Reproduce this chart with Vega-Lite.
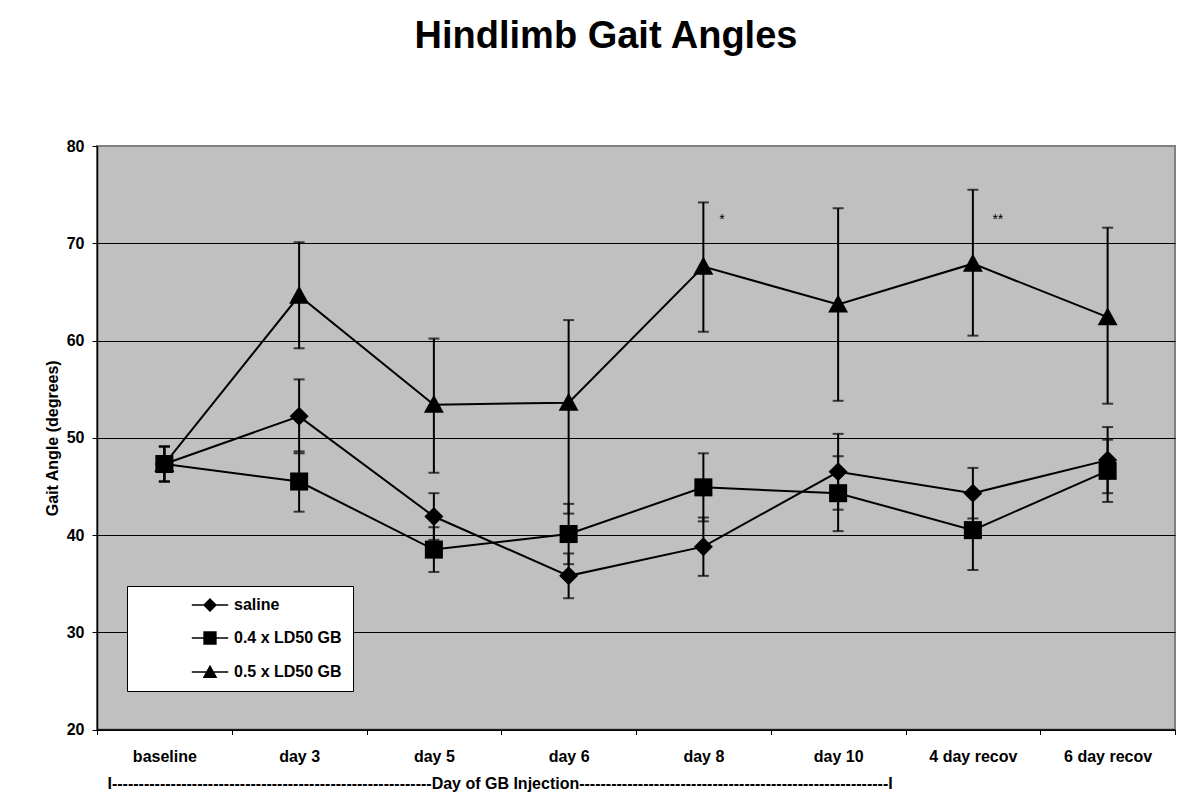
{
  "$schema": "https://vega.github.io/schema/vega-lite/v6.json",
  "width": 1078,
  "height": 583.5,
  "autosize": {"type": "none"},
  "padding": {"left": 97, "top": 146, "right": 17, "bottom": 79.5},
  "background": "white",
  "title": {
    "text": "Hindlimb Gait Angles",
    "font": "Liberation Sans",
    "fontSize": 38,
    "fontWeight": "bold",
    "color": "black",
    "anchor": "middle",
    "frame": "group",
    "baseline": "alphabetic",
    "dx": -30,
    "offset": 52
  },
  "config": {
    "font": "Liberation Sans",
    "view": {"fill": "#C0C0C0", "stroke": "#808080", "strokeWidth": 2}
  },
  "resolve": {"scale": {"shape": "independent"}, "legend": {"shape": "independent"}},
  "datasets": {
    "gait": [
      {"day": "baseline", "series": "saline", "mean": 47.3, "lo": 45.5, "hi": 49.1},
      {"day": "day 3", "series": "saline", "mean": 52.2, "lo": 48.4, "hi": 56.0},
      {"day": "day 5", "series": "saline", "mean": 41.9, "lo": 39.5, "hi": 44.3},
      {"day": "day 6", "series": "saline", "mean": 35.8, "lo": 33.5, "hi": 38.1},
      {"day": "day 8", "series": "saline", "mean": 38.8, "lo": 35.8, "hi": 41.8},
      {"day": "day 10", "series": "saline", "mean": 46.5, "lo": 42.6, "hi": 50.4},
      {"day": "4 day recov", "series": "saline", "mean": 44.3, "lo": 41.7, "hi": 46.9},
      {"day": "6 day recov", "series": "saline", "mean": 47.7, "lo": 44.3, "hi": 51.1},
      {"day": "baseline", "series": "0.5 x LD50 GB", "mean": 47.3, "lo": 45.5, "hi": 49.1},
      {"day": "day 3", "series": "0.5 x LD50 GB", "mean": 64.6, "lo": 59.2, "hi": 70.1},
      {"day": "day 5", "series": "0.5 x LD50 GB", "mean": 53.4, "lo": 46.4, "hi": 60.2},
      {"day": "day 6", "series": "0.5 x LD50 GB", "mean": 53.6, "lo": 42.2, "hi": 62.1},
      {"day": "day 8", "series": "0.5 x LD50 GB", "mean": 67.6, "lo": 60.9, "hi": 74.2},
      {"day": "day 10", "series": "0.5 x LD50 GB", "mean": 63.7, "lo": 53.8, "hi": 73.6},
      {"day": "4 day recov", "series": "0.5 x LD50 GB", "mean": 67.9, "lo": 60.5, "hi": 75.5},
      {"day": "6 day recov", "series": "0.5 x LD50 GB", "mean": 62.4, "lo": 53.5, "hi": 71.6},
      {"day": "baseline", "series": "0.4 x LD50 GB", "mean": 47.3, "lo": 45.5, "hi": 49.1},
      {"day": "day 3", "series": "0.4 x LD50 GB", "mean": 45.5, "lo": 42.4, "hi": 48.6},
      {"day": "day 5", "series": "0.4 x LD50 GB", "mean": 38.5, "lo": 36.2, "hi": 40.8},
      {"day": "day 6", "series": "0.4 x LD50 GB", "mean": 40.1, "lo": 37.0, "hi": 43.2},
      {"day": "day 8", "series": "0.4 x LD50 GB", "mean": 44.9, "lo": 41.4, "hi": 48.4},
      {"day": "day 10", "series": "0.4 x LD50 GB", "mean": 44.3, "lo": 40.4, "hi": 48.1},
      {"day": "4 day recov", "series": "0.4 x LD50 GB", "mean": 40.5, "lo": 36.4, "hi": 44.6},
      {"day": "6 day recov", "series": "0.4 x LD50 GB", "mean": 46.6, "lo": 43.4, "hi": 49.8}
    ],
    "stars": [
      {"day": "day 8", "y": 72.4, "label": "*"},
      {"day": "4 day recov", "y": 72.4, "label": "**"}
    ]
  },
  "encoding": {
    "x": {
      "field": "day",
      "type": "nominal",
      "sort": ["baseline", "day 3", "day 5", "day 6", "day 8", "day 10", "4 day recov", "6 day recov"],
      "scale": {
        "type": "band",
        "domain": ["baseline", "day 3", "day 5", "day 6", "day 8", "day 10", "4 day recov", "6 day recov"],
        "paddingInner": 0,
        "paddingOuter": 0
      },
      "axis": {
        "title": "I------------------------------------------------------------Day of GB Injection----------------------------------------------------------I",
        "titleFont": "Liberation Sans",
        "titleFontSize": 16,
        "titleFontWeight": "bold",
        "titleColor": "black",
        "titleAnchor": "start",
        "titleAlign": "left",
        "titleBaseline": "alphabetic",
        "titleX": 10,
        "titleY": 58.5,
        "labelAngle": 0,
        "labelFont": "Liberation Sans",
        "labelFontSize": 16,
        "labelFontWeight": "bold",
        "labelColor": "black",
        "labelBaseline": "alphabetic",
        "labelPadding": 26.5,
        "tickBand": "extent",
        "tickSize": 5,
        "tickColor": "black",
        "tickWidth": 1,
        "domainColor": "black",
        "domainWidth": 1.5,
        "grid": false
      }
    }
  },
  "layer": [
    {
      "data": {"name": "gait"},
      "mark": {"type": "line", "color": "black", "strokeWidth": 2},
      "encoding": {
        "y": {
          "field": "mean",
          "type": "quantitative",
          "scale": {"domain": [20, 80], "nice": false, "zero": false},
          "axis": {
            "title": "Gait Angle (degrees)",
            "values": [20, 30, 40, 50, 60, 70, 80],
            "titleFont": "Liberation Sans",
            "titleFontSize": 16,
            "titleFontWeight": "bold",
            "titleColor": "black",
            "titleAngle": 270,
            "titleAlign": "center",
            "titleBaseline": "alphabetic",
            "titleX": -40,
            "titleY": 291.75,
            "labelFont": "Liberation Sans",
            "labelFontSize": 16,
            "labelFontWeight": "bold",
            "labelColor": "black",
            "labelPadding": 8,
            "tickSize": 5,
            "tickColor": "black",
            "domainColor": "black",
            "domainWidth": 1.5,
            "grid": true,
            "gridColor": {"condition": {"test": "datum.value == 80", "value": "#808080"}, "value": "black"},
            "gridWidth": 1
          }
        },
        "detail": {"field": "series"}
      }
    },
    {
      "data": {"name": "gait"},
      "mark": {"type": "rule", "color": "black", "strokeWidth": 2},
      "encoding": {
        "y": {
          "field": "lo",
          "type": "quantitative",
          "scale": {"domain": [20, 80], "nice": false, "zero": false},
          "axis": {
            "title": "Gait Angle (degrees)",
            "values": [20, 30, 40, 50, 60, 70, 80],
            "titleFont": "Liberation Sans",
            "titleFontSize": 16,
            "titleFontWeight": "bold",
            "titleColor": "black",
            "titleAngle": 270,
            "titleAlign": "center",
            "titleBaseline": "alphabetic",
            "titleX": -40,
            "titleY": 291.75,
            "labelFont": "Liberation Sans",
            "labelFontSize": 16,
            "labelFontWeight": "bold",
            "labelColor": "black",
            "labelPadding": 8,
            "tickSize": 5,
            "tickColor": "black",
            "domainColor": "black",
            "domainWidth": 1.5,
            "grid": true,
            "gridColor": {"condition": {"test": "datum.value == 80", "value": "#808080"}, "value": "black"},
            "gridWidth": 1
          }
        },
        "y2": {"field": "hi"}
      }
    },
    {
      "data": {"name": "gait"},
      "mark": {"type": "tick", "color": "black", "thickness": 2, "size": 11},
      "encoding": {
        "y": {
          "field": "lo",
          "type": "quantitative",
          "scale": {"domain": [20, 80], "nice": false, "zero": false},
          "axis": {
            "title": "Gait Angle (degrees)",
            "values": [20, 30, 40, 50, 60, 70, 80],
            "titleFont": "Liberation Sans",
            "titleFontSize": 16,
            "titleFontWeight": "bold",
            "titleColor": "black",
            "titleAngle": 270,
            "titleAlign": "center",
            "titleBaseline": "alphabetic",
            "titleX": -40,
            "titleY": 291.75,
            "labelFont": "Liberation Sans",
            "labelFontSize": 16,
            "labelFontWeight": "bold",
            "labelColor": "black",
            "labelPadding": 8,
            "tickSize": 5,
            "tickColor": "black",
            "domainColor": "black",
            "domainWidth": 1.5,
            "grid": true,
            "gridColor": {"condition": {"test": "datum.value == 80", "value": "#808080"}, "value": "black"},
            "gridWidth": 1
          }
        }
      }
    },
    {
      "data": {"name": "gait"},
      "mark": {"type": "tick", "color": "black", "thickness": 2, "size": 11},
      "encoding": {
        "y": {
          "field": "hi",
          "type": "quantitative",
          "scale": {"domain": [20, 80], "nice": false, "zero": false},
          "axis": {
            "title": "Gait Angle (degrees)",
            "values": [20, 30, 40, 50, 60, 70, 80],
            "titleFont": "Liberation Sans",
            "titleFontSize": 16,
            "titleFontWeight": "bold",
            "titleColor": "black",
            "titleAngle": 270,
            "titleAlign": "center",
            "titleBaseline": "alphabetic",
            "titleX": -40,
            "titleY": 291.75,
            "labelFont": "Liberation Sans",
            "labelFontSize": 16,
            "labelFontWeight": "bold",
            "labelColor": "black",
            "labelPadding": 8,
            "tickSize": 5,
            "tickColor": "black",
            "domainColor": "black",
            "domainWidth": 1.5,
            "grid": true,
            "gridColor": {"condition": {"test": "datum.value == 80", "value": "#808080"}, "value": "black"},
            "gridWidth": 1
          }
        }
      }
    },
    {
      "data": {"name": "gait"},
      "mark": {"type": "point", "filled": true, "color": "black", "opacity": 1, "size": 361, "strokeWidth": 0},
      "encoding": {
        "y": {
          "field": "mean",
          "type": "quantitative",
          "scale": {"domain": [20, 80], "nice": false, "zero": false},
          "axis": {
            "title": "Gait Angle (degrees)",
            "values": [20, 30, 40, 50, 60, 70, 80],
            "titleFont": "Liberation Sans",
            "titleFontSize": 16,
            "titleFontWeight": "bold",
            "titleColor": "black",
            "titleAngle": 270,
            "titleAlign": "center",
            "titleBaseline": "alphabetic",
            "titleX": -40,
            "titleY": 291.75,
            "labelFont": "Liberation Sans",
            "labelFontSize": 16,
            "labelFontWeight": "bold",
            "labelColor": "black",
            "labelPadding": 8,
            "tickSize": 5,
            "tickColor": "black",
            "domainColor": "black",
            "domainWidth": 1.5,
            "grid": true,
            "gridColor": {"condition": {"test": "datum.value == 80", "value": "#808080"}, "value": "black"},
            "gridWidth": 1
          }
        },
        "shape": {
          "field": "series",
          "type": "nominal",
          "scale": {
            "domain": ["saline", "0.4 x LD50 GB", "0.5 x LD50 GB"],
            "range": [
              "M0,-1L1,0L0,1L-1,0Z",
              "M-0.95,-0.95H0.95V0.95H-0.95Z",
              "M0,-1.05L1.05,0.85L-1.05,0.85Z"
            ]
          },
          "legend": null
        }
      }
    },
    {
      "data": {"name": "gait"},
      "mark": {"type": "point", "filled": true, "fill": "black", "stroke": "black", "strokeWidth": 1.5, "opacity": 0, "size": 196},
      "encoding": {
        "y": {
          "field": "mean",
          "type": "quantitative",
          "scale": {"domain": [20, 80], "nice": false, "zero": false},
          "axis": {
            "title": "Gait Angle (degrees)",
            "values": [20, 30, 40, 50, 60, 70, 80],
            "titleFont": "Liberation Sans",
            "titleFontSize": 16,
            "titleFontWeight": "bold",
            "titleColor": "black",
            "titleAngle": 270,
            "titleAlign": "center",
            "titleBaseline": "alphabetic",
            "titleX": -40,
            "titleY": 291.75,
            "labelFont": "Liberation Sans",
            "labelFontSize": 16,
            "labelFontWeight": "bold",
            "labelColor": "black",
            "labelPadding": 8,
            "tickSize": 5,
            "tickColor": "black",
            "domainColor": "black",
            "domainWidth": 1.5,
            "grid": true,
            "gridColor": {"condition": {"test": "datum.value == 80", "value": "#808080"}, "value": "black"},
            "gridWidth": 1
          }
        },
        "shape": {
          "field": "series",
          "type": "nominal",
          "scale": {
            "domain": ["saline", "0.4 x LD50 GB", "0.5 x LD50 GB"],
            "range": [
              "M-2.6,-0.1L2.6,-0.1L2.6,0.1L-2.6,0.1Z M0,-1L1,0L0,1L-1,0Z",
              "M-2.6,-0.1L2.6,-0.1L2.6,0.1L-2.6,0.1Z M-0.95,-0.95L0.95,-0.95L0.95,0.95L-0.95,0.95Z",
              "M-2.6,-0.1L2.6,-0.1L2.6,0.1L-2.6,0.1Z M0,-1.05L1.05,0.85L-1.05,0.85Z"
            ]
          },
          "legend": {
            "title": null,
            "orient": "none",
            "legendX": 30,
            "legendY": 440,
            "direction": "vertical",
            "fillColor": "white",
            "strokeColor": "black",
            "padding": 11,
            "symbolSize": 196,
            "symbolOffset": 64,
            "labelOffset": 16,
            "rowPadding": 15,
            "labelFont": "Liberation Sans",
            "labelFontSize": 16,
            "labelFontWeight": "bold",
            "labelColor": "black",
            "symbolOpacity": 1,
            "symbolFillColor": "black",
            "symbolStrokeColor": "black",
            "symbolStrokeWidth": 1
          }
        }
      }
    },
    {
      "data": {"name": "stars"},
      "transform": [{"filter": "datum.label == '*'"}],
      "mark": {"type": "text", "fontSize": 14, "color": "black", "align": "center", "baseline": "middle", "dx": 18.5},
      "encoding": {
        "y": {
          "field": "y",
          "type": "quantitative",
          "scale": {"domain": [20, 80], "nice": false, "zero": false},
          "axis": {
            "title": "Gait Angle (degrees)",
            "values": [20, 30, 40, 50, 60, 70, 80],
            "titleFont": "Liberation Sans",
            "titleFontSize": 16,
            "titleFontWeight": "bold",
            "titleColor": "black",
            "titleAngle": 270,
            "titleAlign": "center",
            "titleBaseline": "alphabetic",
            "titleX": -40,
            "titleY": 291.75,
            "labelFont": "Liberation Sans",
            "labelFontSize": 16,
            "labelFontWeight": "bold",
            "labelColor": "black",
            "labelPadding": 8,
            "tickSize": 5,
            "tickColor": "black",
            "domainColor": "black",
            "domainWidth": 1.5,
            "grid": true,
            "gridColor": {"condition": {"test": "datum.value == 80", "value": "#808080"}, "value": "black"},
            "gridWidth": 1
          }
        },
        "text": {"field": "label"}
      }
    },
    {
      "data": {"name": "stars"},
      "transform": [{"filter": "datum.label == '**'"}],
      "mark": {"type": "text", "fontSize": 14, "color": "black", "align": "center", "baseline": "middle", "dx": 25},
      "encoding": {
        "y": {
          "field": "y",
          "type": "quantitative",
          "scale": {"domain": [20, 80], "nice": false, "zero": false},
          "axis": {
            "title": "Gait Angle (degrees)",
            "values": [20, 30, 40, 50, 60, 70, 80],
            "titleFont": "Liberation Sans",
            "titleFontSize": 16,
            "titleFontWeight": "bold",
            "titleColor": "black",
            "titleAngle": 270,
            "titleAlign": "center",
            "titleBaseline": "alphabetic",
            "titleX": -40,
            "titleY": 291.75,
            "labelFont": "Liberation Sans",
            "labelFontSize": 16,
            "labelFontWeight": "bold",
            "labelColor": "black",
            "labelPadding": 8,
            "tickSize": 5,
            "tickColor": "black",
            "domainColor": "black",
            "domainWidth": 1.5,
            "grid": true,
            "gridColor": {"condition": {"test": "datum.value == 80", "value": "#808080"}, "value": "black"},
            "gridWidth": 1
          }
        },
        "text": {"field": "label"}
      }
    }
  ]
}
